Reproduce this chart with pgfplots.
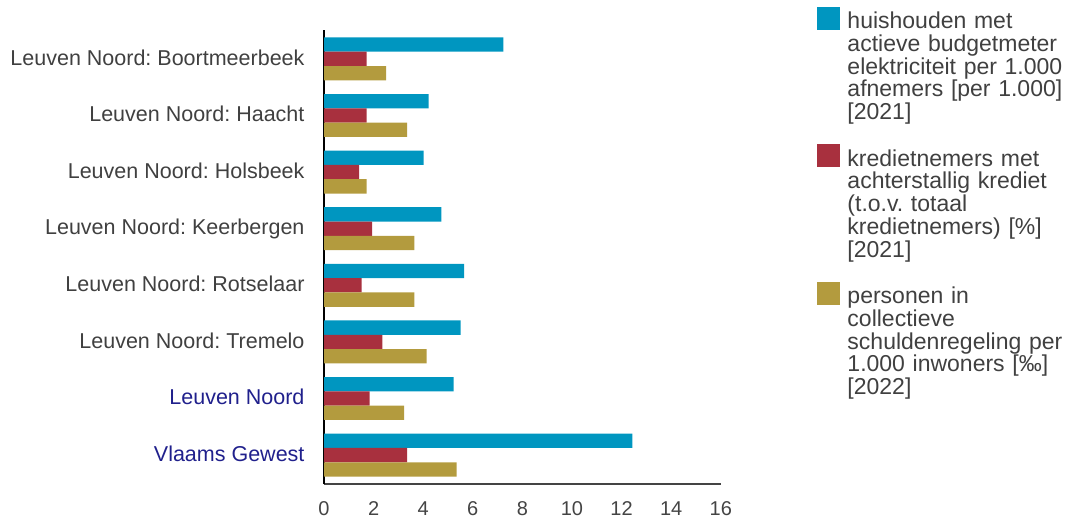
\documentclass[border=0pt]{standalone}
\usepackage{fontspec}
\setmainfont{Liberation Sans}
\usepackage{pgfplots}
\pgfplotsset{compat=1.18}
\definecolor{cblue}{RGB}{0,150,192}
\definecolor{cred}{RGB}{168,48,62}
\definecolor{cgold}{RGB}{179,155,62}
\definecolor{labgray}{RGB}{64,64,64}
\definecolor{navy}{RGB}{32,32,140}
\definecolor{tickgray}{RGB}{68,68,68}

\pgfplotstableread{
y   blue   red   gold
0   12.43  3.35  5.35
1   5.23   1.84  3.23
2   5.51   2.35  4.14
3   5.65   1.52  3.64
4   4.73   1.94  3.64
5   4.02   1.42  1.72
6   4.22   1.72  3.35
7   7.23   1.72  2.51
}\datatable

\begin{document}
\frenchspacing
\begin{tikzpicture}
\path[use as bounding box] (0,0) rectangle (1070bp,520bp);
\begin{axis}[
  at={(324bp,36bp)}, anchor=south west,
  scale only axis, width=396.8bp, height=454bp,
  xbar, bar width=14.3bp,
  xmin=0, xmax=16, ymin=-0.51, ymax=7.51,
  axis lines*=left,
  axis line style={-},
  x axis line style={draw=tickgray, line width=1.5bp},
  y axis line style={draw=black, line width=1.5bp},
  xtick={0,2,...,16}, ytick={0,...,7},
  major tick length=0pt,
  /pgf/number format/assume math mode=true,
  xticklabel style={anchor=base, yshift=-31bp, font=\fontsize{20bp}{20bp}\selectfont, text=tickgray},
  yticklabel style={anchor=base east, xshift=-16bp, yshift=-6.3bp, font=\fontsize{21.5bp}{22bp}\selectfont, text=labgray},
  yticklabels={{\textcolor{navy}{Vlaams Gewest}},{\textcolor{navy}{Leuven Noord}},{Leuven Noord: Tremelo},{Leuven Noord: Rotselaar},{Leuven Noord: Keerbergen},{Leuven Noord: Holsbeek},{Leuven Noord: Haacht},{Leuven Noord: Boortmeerbeek}},
  legend image code/.code={\fill[#1] (0bp,-8.7bp) rectangle (23bp,14.3bp);},
  legend cell align=left,
  legend style={draw=none, fill=none, inner sep=0pt, outer sep=0pt,
    at={(1.2424,1.0507)}, anchor=north west,
    row sep=114bp, column sep=7.5bp,
    nodes={inner sep=0pt, text width=225bp, align=left,
      font=\fontsize{23bp}{22.7bp}\selectfont\frenchspacing, text=labgray}},
]
\addplot[fill=cblue, draw=none, bar shift=14.3bp] table[x=blue, y=y] {\datatable};
\addlegendentry{huishouden met\\actieve budgetmeter\\elektriciteit per 1.000\\afnemers [per 1.000]\\{}[2021]}
\addplot[fill=cred, draw=none, bar shift=0bp] table[x=red, y=y] {\datatable};
\addlegendentry{kredietnemers met\\achterstallig krediet\\(t.o.v.\ totaal\\kredietnemers) [\%]\\{}[2021]}
\addplot[fill=cgold, draw=none, bar shift=-14.3bp] table[x=gold, y=y] {\datatable};
\addlegendentry{personen in\\collectieve\\schuldenregeling per\\1.000 inwoners [‰]\\{}[2022]}
\end{axis}
\end{tikzpicture}
\end{document}
